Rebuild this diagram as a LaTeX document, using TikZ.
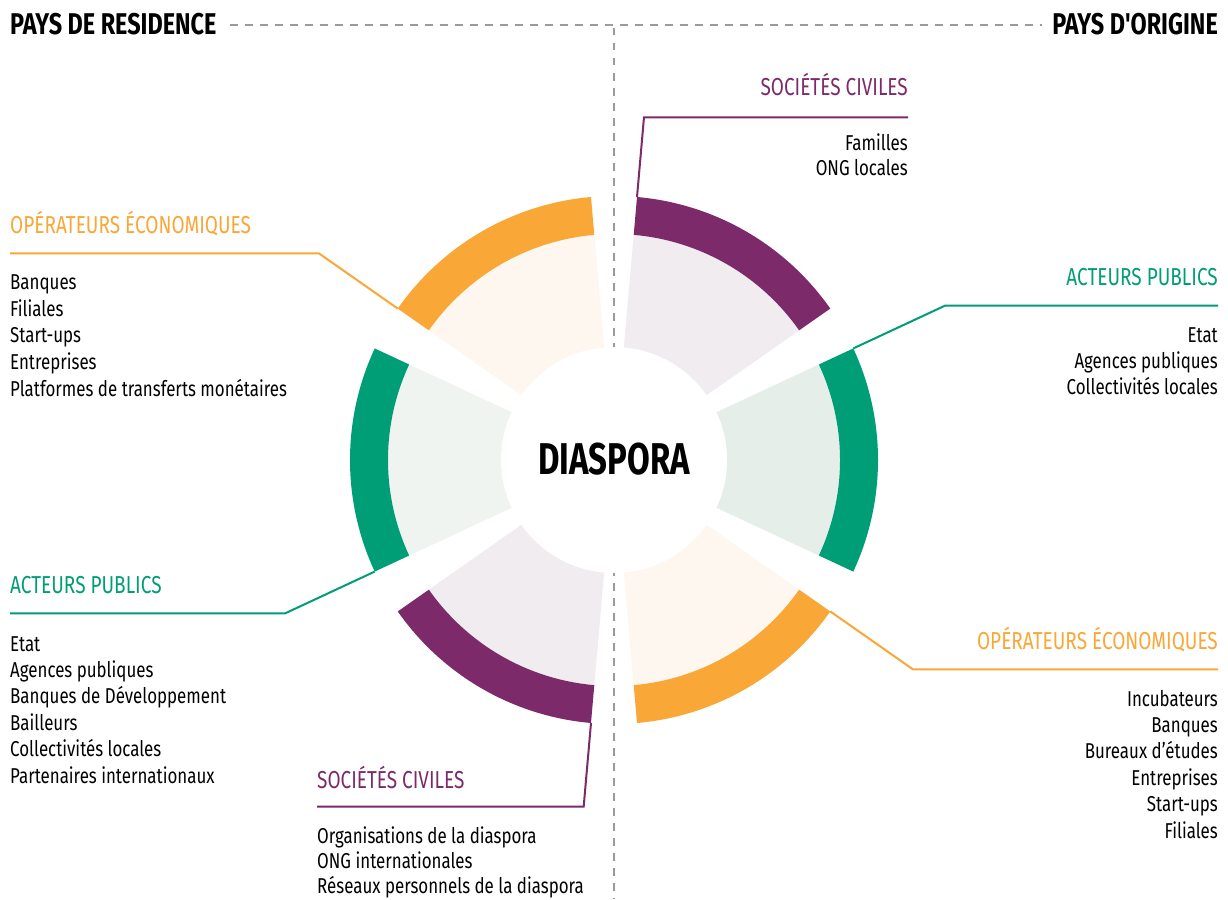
\documentclass[tikz,border=0pt]{standalone}
\usepackage{fontspec}
\setmainfont{Fira Sans}[FakeStretch=0.786]
\newfontfamily\titlefont{Fira Sans}[FakeStretch=0.775]
\newfontfamily\headfont{Fira Sans}[FakeStretch=0.78]
\newfontfamily\hubfont{Fira Sans}[FakeStretch=0.74]
\definecolor{cPur}{HTML}{7D2A6B}
\definecolor{cGrn}{HTML}{009E77}
\definecolor{cOra}{HTML}{F9A736}
\definecolor{lPur}{HTML}{F0ECF0}
\definecolor{lGrnA}{HTML}{E5EEE9}
\definecolor{lGrnB}{HTML}{F0F4F1}
\definecolor{lOra}{HTML}{FEF7F0}
\definecolor{cDash}{HTML}{9B9B9B}
\newcommand\drawSector[3]{%
  \fill[#3] (#1-25:100) -- (#1-25:226) arc[start angle=#1-25, end angle=#1+25, radius=226] -- (#1+25:100) -- cycle;
  \fill[#2] (#1-25:226) -- (#1-25:264) arc[start angle=#1-25, end angle=#1+25, radius=264] -- (#1+25:226) arc[start angle=#1+25, end angle=#1-25, radius=226] -- cycle;
}
\begin{document}
\begin{tikzpicture}[x=1pt,y=1pt,
  body/.style={font=\fontsize{21.5}{26}\selectfont, inner sep=0pt, text=black},
  cattitle/.style={font=\titlefont\fontsize{24.5}{28}\selectfont, inner sep=0pt},
  sidehead/.style={font=\headfont\bfseries\fontsize{30}{34}\selectfont, inner sep=0pt},
  guide/.style={cDash, line width=1.6pt, dash pattern=on 7.5pt off 7.5pt},
  leader/.style={line width=2pt},
]
\useasboundingbox (0,0) rectangle (1228,-899);
\fill[white] (0,0) rectangle (1228,-899);

% headers
\node[sidehead, anchor=base west] (hl) at (10,-35) {PAYS DE RESIDENCE};
\node[sidehead, anchor=base east] (hr) at (1218,-35) {PAYS D'ORIGINE};
\coordinate (dl) at (230,-25);
\coordinate (dr) at (1042,-25);
\coordinate (vt) at (614,-28);
\coordinate (vb) at (614,-899);
\draw[guide] (dl) -- (dr);
\draw[guide] (vt) -- (vb);

% wheel
\begin{scope}[shift={(614,-460)}]
  \drawSector{60}{cPur}{lPur}
  \drawSector{0}{cGrn}{lGrnA}
  \drawSector{-60}{cOra}{lOra}
  \drawSector{-120}{cPur}{lPur}
  \drawSector{180}{cGrn}{lGrnB}
  \drawSector{120}{cOra}{lOra}
  \node[circle, fill=white, minimum size=226pt, inner sep=0pt] (hub) at (0,0) {};
  \node[font=\hubfont\bfseries\fontsize{44.5}{48}\selectfont, inner sep=0pt] (dia) at (0,1) {DIASPORA};
  \coordinate (trA) at (85:264);   \coordinate (trB) at (85:344);
  \coordinate (tlA) at (145:264);  \coordinate (tlB) at (145:360.4);
  \coordinate (rA) at (25:264);    \coordinate (rB) at (25:365.1);
  \coordinate (lA) at (205:264);   \coordinate (lB) at (205:362.8);
  \coordinate (blA) at (265:264);  \coordinate (blB) at (265:348);
  \coordinate (brA) at (325:264);  \coordinate (brB) at (325:364.9);
\end{scope}

% top right: societes civiles
\node[cattitle, text=cPur, anchor=base east] (tTR) at (908,-95.5) {SOCIÉTÉS CIVILES};
\foreach \t [count=\i] in {Familles, ONG locales}
  \node[body, anchor=base east] (btr\i) at (908, {-150.7-24.5*(\i-1)}) {\t};
\draw[leader, cPur] (trA) -- (trB) -- (trB -| tTR.east);

% top left: operateurs economiques
\node[cattitle, text=cOra, anchor=base west] (tTL) at (10,-233.3) {OPÉRATEURS ÉCONOMIQUES};
\foreach \t [count=\i] in {Banques, Filiales, Start-ups, Entreprises, Platformes de transferts monétaires}
  \node[body, anchor=base west] (btl\i) at (10, {-289.3-26.7*(\i-1)}) {\t};
\draw[leader, cOra] (tlA) -- (tlB) -- (tlB -| tTL.west);

% right: acteurs publics
\node[cattitle, text=cGrn, anchor=base east] (tR) at (1218,-285) {ACTEURS PUBLICS};
\foreach \t [count=\i] in {Etat, Agences publiques, Collectivités locales}
  \node[body, anchor=base east] (br\i) at (1218, {-342.7-25.7*(\i-1)}) {\t};
\draw[leader, cGrn] (rA) -- (rB) -- (rB -| tR.east);

% left: acteurs publics
\node[cattitle, text=cGrn, anchor=base west] (tL) at (10,-593.3) {ACTEURS PUBLICS};
\foreach \t [count=\i] in {Etat, Agences publiques, Banques de Développement, Bailleurs, Collectivités locales, Partenaires internationaux}
  \node[body, anchor=base west] (bl\i) at (10, {-651-26.4*(\i-1)}) {\t};
\draw[leader, cGrn] (lA) -- (lB) -- (lB -| tL.west);

% bottom left: societes civiles
\node[cattitle, text=cPur, anchor=base west] (tBL) at (317,-788.3) {SOCIÉTÉS CIVILES};
\foreach \t [count=\i] in {Organisations de la diaspora, ONG internationales, Réseaux personnels de la diaspora}
  \node[body, anchor=base west] (bbl\i) at (317, {-843.3-25*(\i-1)}) {\t};
\draw[leader, cPur] (blA) -- (blB) -- (blB -| tBL.west);

% bottom right: operateurs economiques
\node[cattitle, text=cOra, anchor=base east] (tBR) at (1218,-649.3) {OPÉRATEURS ÉCONOMIQUES};
\foreach \t [count=\i] in {Incubateurs, Banques, Bureaux d’études, Entreprises, Start-ups, Filiales}
  \node[body, anchor=base east] (bbr\i) at (1218, {-706-26.4*(\i-1)}) {\t};
\draw[leader, cOra] (brA) -- (brB) -- (brB -| tBR.east);
\end{tikzpicture}
\end{document}
